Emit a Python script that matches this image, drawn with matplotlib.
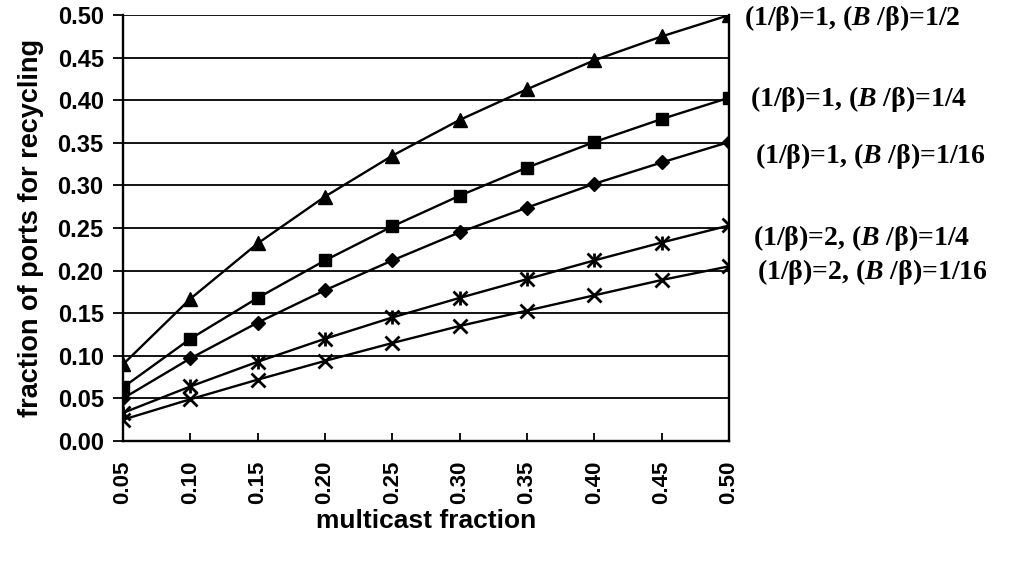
import matplotlib
matplotlib.use("Agg")
import matplotlib.pyplot as plt

multicast = [0.05, 0.10, 0.15, 0.20, 0.25, 0.30, 0.35, 0.40, 0.45, 0.50]

b1_half = [0.090, 0.167, 0.232, 0.287, 0.335, 0.377, 0.413, 0.447, 0.475, 0.500]
b1_quarter = [0.063, 0.120, 0.168, 0.212, 0.252, 0.288, 0.321, 0.351, 0.378, 0.403]
b1_sixteenth = [0.050, 0.097, 0.139, 0.177, 0.212, 0.245, 0.274, 0.302, 0.327, 0.351]
b2_quarter = [0.033, 0.064, 0.093, 0.120, 0.145, 0.168, 0.190, 0.212, 0.233, 0.253]
b2_sixteenth = [0.025, 0.049, 0.072, 0.094, 0.115, 0.135, 0.153, 0.171, 0.189, 0.205]

labels = [
    r"(1/β)=1, ($B$ /β)=1/2",
    r"(1/β)=1, ($B$ /β)=1/4",
    r"(1/β)=1, ($B$ /β)=1/16",
    r"(1/β)=2, ($B$ /β)=1/4",
    r"(1/β)=2, ($B$ /β)=1/16",
]

yticks = [0.00, 0.05, 0.10, 0.15, 0.20, 0.25, 0.30, 0.35, 0.40, 0.45, 0.50]

plt.rcParams["mathtext.fontset"] = "custom"
plt.rcParams["mathtext.it"] = "Liberation Serif:italic:bold"
plt.rcParams["mathtext.rm"] = "Liberation Serif:bold"

fig = plt.figure(figsize=(10.09, 5.61), dpi=100)
ax = fig.add_axes([0.122, 0.214, 0.6005, 0.759])

for y in yticks:
    ax.axhline(y, color="black", lw=1.3, zorder=1)

ax.plot(multicast, b1_half, color="black", lw=1.7, marker="^", ms=10, zorder=3)
ax.plot(multicast, b1_quarter, color="black", lw=1.7, marker="s", ms=9, zorder=3)
ax.plot(multicast, b1_sixteenth, color="black", lw=1.7, marker="D", ms=7, zorder=3)
ax.plot(multicast, b2_quarter, color="black", lw=1.7, marker="x", ms=10, mew=2, zorder=3)
ax.plot(multicast, b2_quarter, color="black", lw=0, marker="|", ms=10, mew=2, zorder=3)
ax.plot(multicast, b2_sixteenth, color="black", lw=1.7, marker="x", ms=10, mew=2, zorder=3)

ax.set_xlim(0.05, 0.50)
ax.set_ylim(0.0, 0.50)
ax.set_xticks(multicast)
ax.set_xticklabels([f"{v:.2f}" for v in multicast], rotation=90,
                   fontsize=16, fontweight="bold", family="Liberation Sans")
ax.set_yticks(yticks)
ax.set_yticklabels([f"{v:.2f}" for v in yticks],
                   fontsize=17, fontweight="bold", family="Liberation Sans")
ax.tick_params(axis="x", direction="in", length=6, width=1.3, pad=14)
ax.tick_params(axis="y", direction="out", length=7, width=1.3, pad=7)
for side in ["left", "bottom", "right"]:
    ax.spines[side].set_linewidth(1.7)
ax.spines["top"].set_visible(False)

ax.set_xlabel("multicast fraction", fontsize=19, fontweight="bold",
              family="Liberation Sans")
ax.xaxis.set_label_coords(0.5, -0.16)
ax.set_ylabel("fraction of ports for recycling", fontsize=19.5, fontweight="bold",
              family="Liberation Sans")
ax.yaxis.set_label_coords(-0.13, 0.5)

series_end = [b1_half[-1], b1_quarter[-1], b1_sixteenth[-1], b2_quarter[-1], b2_sixteenth[-1]]
offsets = [(11, -2), (15, -1), (19, -10), (17, -9), (20, -4)]
for lab, yend, (dx, dy) in zip(labels, series_end, offsets):
    ax.annotate(lab, xy=(0.50, yend), xytext=(dx, dy), textcoords="offset points",
                va="center", ha="left", fontsize=20, fontweight="bold",
                family="Liberation Serif", annotation_clip=False)

fig.savefig("out.png", dpi=100)
